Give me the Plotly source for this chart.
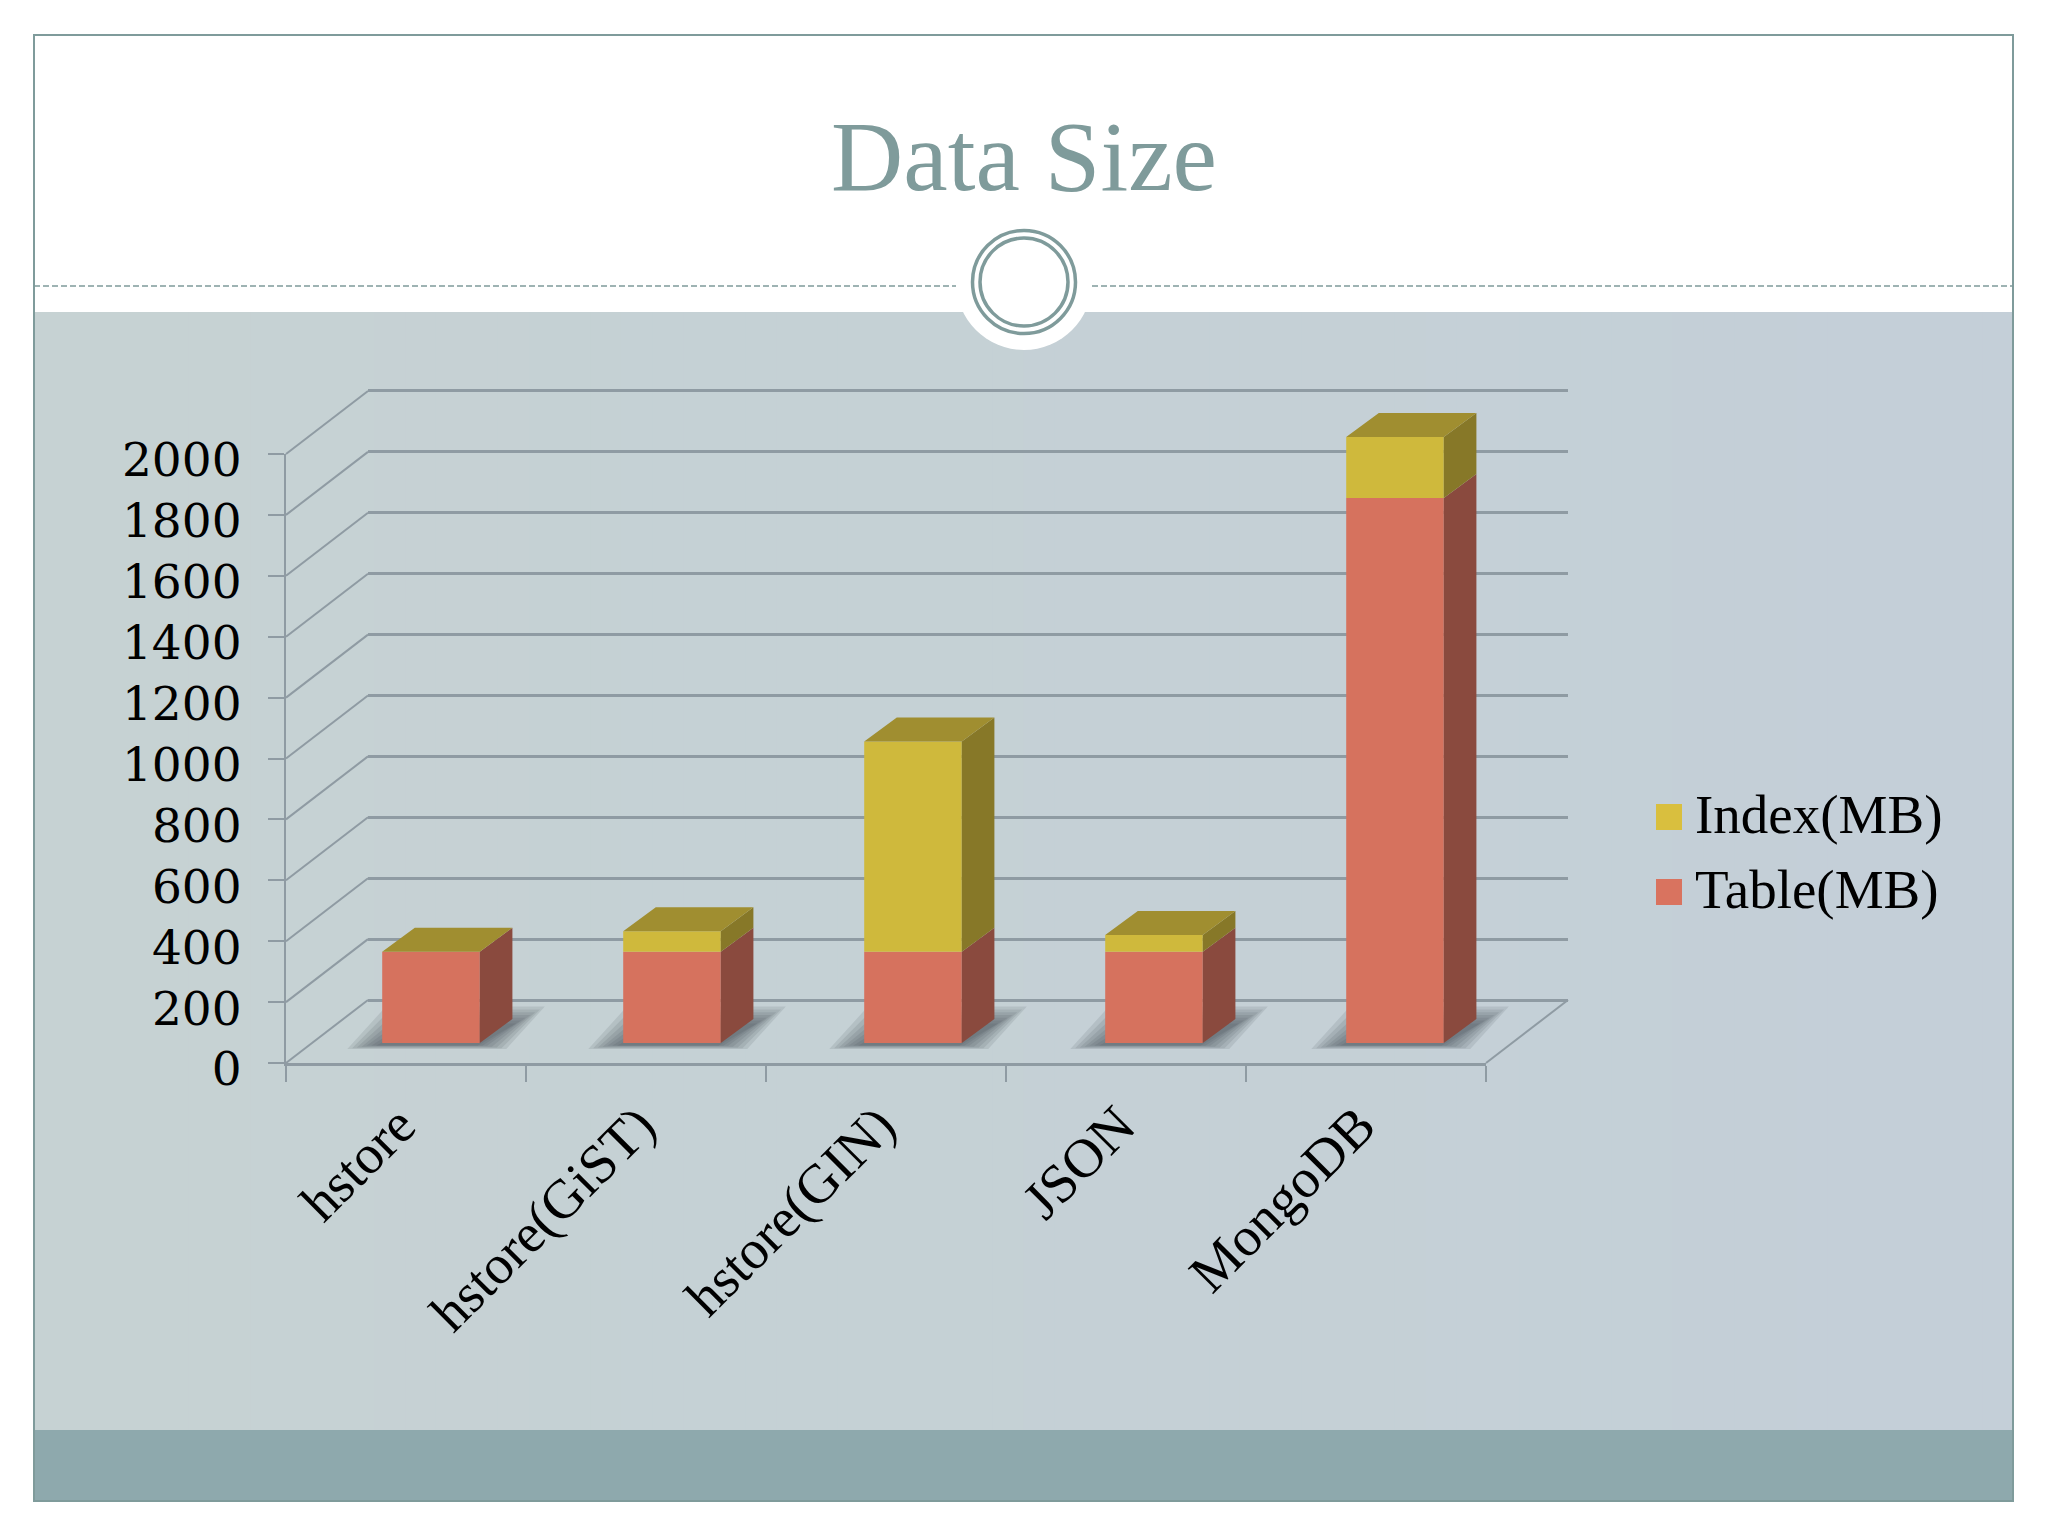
import plotly.graph_objects as go

categories = ["hstore", "hstore(GiST)", "hstore(GIN)", "JSON", "MongoDB"]
table_mb = [300, 300, 300, 300, 1790]
index_mb = [0, 67, 690, 55, 200]
y_ticks = [0, 200, 400, 600, 800, 1000, 1200, 1400, 1600, 1800, 2000]
series_names = ["Index(MB)", "Table(MB)"]
series_colors = ["#d9bf3e", "#d9735f"]

W, H = 2048, 1536
GRID = "#8f9ba3"
TABLE, TABLE_SIDE = "#d6725e", "#8a4a3e"
INDEX, INDEX_SIDE, INDEX_TOP = "#cfb93c", "#877828", "#a08e30"
FRAME = "#7f9b9b"
SERIF = "Liberation Serif"

px = lambda v: v / W
py = lambda v: 1 - v / H
U = 60.9 / 200          # pixels per value unit
STEP = 240.0            # pixels per category
BAR_STEP = 241.0        # bar spacing is very slightly wider than the axis ticks
X0, Y0 = 286, 1063      # front corner
BX, BY = 25, 20         # bar plane offset
WX, WY = 82, 63         # back wall offset
DX, DY = 32.6 / BAR_STEP, 24 / U   # bar depth in data units
BAR = 0.405
xs = list(range(len(categories)))


def plane(off_x, off_y, xr=(-0.5, 4.5), yr=(0, 2000), step=STEP):
    """Domains that place category -0.5 / value 0 at the plane's corner, for any range."""
    xd = [px(X0 + off_x + (xr[0] + 0.5) * step), px(X0 + off_x + (xr[1] + 0.5) * step)]
    yd = [py(Y0 - off_y - yr[0] * U), py(Y0 - off_y - yr[1] * U)]
    return dict(xd=xd, yd=yd, xr=list(xr), yr=list(yr))


wall = plane(WX, WY, yr=(-30, 2030))
edges = plane(WX, WY, xr=(-1.0, 5.0), yr=(-300, 2100))
front = plane(0, 0)
labels_p = plane(0, -6)
bars_p = plane(BX + (STEP - BAR_STEP) * 0.5, BY, xr=(-0.8, 5.0), yr=(-70, 2200), step=BAR_STEP)

fig = go.Figure()

# back wall grid (needs a trace for the axes to exist)
fig.add_trace(go.Scatter(x=[0], y=[0], mode="markers", marker=dict(opacity=0, size=1),
                         showlegend=False, hoverinfo="skip", xaxis="x", yaxis="y"))

# depth edges of the side wall and the floor
dia_x, dia_y = [], []
wx, wy = WX / STEP, WY / U
for v in y_ticks:
    dia_x += [-0.5, -0.5 - wx, None]
    dia_y += [v, v - wy, None]
dia_x += [4.5, 4.5 - wx]
dia_y += [0, -wy]
fig.add_trace(go.Scatter(x=dia_x, y=dia_y, mode="lines", line=dict(color=GRID, width=2),
                         showlegend=False, hoverinfo="skip", xaxis="x2", yaxis="y2"))

# front plane: axes and labels
fig.add_trace(go.Scatter(x=categories, y=[0] * len(categories), mode="markers", marker=dict(opacity=0, size=1),
                         showlegend=False, hoverinfo="skip", xaxis="x3", yaxis="y3"))
fig.add_trace(go.Scatter(x=[0], y=[0], mode="markers", marker=dict(opacity=0, size=1),
                         showlegend=False, hoverinfo="skip", xaxis="x6", yaxis="y6"))

# bar shadows: soft at the sides and top, crisper along the bottom edge
for grow in [12, 8, 4, 0, -4, -8, -12]:
    sx, sy = [], []
    gx = grow * 1.2 / BAR_STEP
    gb = max(grow, -4) * 0.2 / U
    gt = grow * 0.7 / U
    for x in xs:
        l, r = x - BAR / 2 - 0.085, x + BAR / 2 + 0.05
        skew = 0.16
        sx += [l - gx, r + gx, r + skew + gx, l + skew - gx, None]
        sy += [-12 - gb, -12 - gb, 92 + gt, 92 + gt, None]
    fig.add_trace(go.Scatter(x=sx, y=sy, mode="lines", fill="toself", fillcolor="rgba(55,65,70,0.115)",
                             line=dict(width=0), showlegend=False, hoverinfo="skip",
                             xaxis="x4", yaxis="y4"))

# bars and their depth faces
fig.add_trace(go.Bar(x=xs, y=table_mb, width=BAR, marker=dict(color=TABLE, line=dict(width=0)),
                     name=series_names[1], showlegend=False, xaxis="x5", yaxis="y5"))
fig.add_trace(go.Bar(x=xs, y=index_mb, width=BAR, base=table_mb, marker=dict(color=INDEX, line=dict(width=0)),
                     name=series_names[0], showlegend=False, xaxis="x5", yaxis="y5"))


def side(lows, highs):
    ox, oy = [], []
    for x, b, t in zip(xs, lows, highs):
        r = x + BAR / 2
        ox += [r, r + DX, r + DX, r, r, None]
        oy += [b, b + DY, t + DY, t, b, None]
    return ox, oy


totals = [a + b for a, b in zip(table_mb, index_mb)]
for (lo, hi, col) in [([0] * len(xs), table_mb, TABLE_SIDE), (table_mb, totals, INDEX_SIDE)]:
    ox, oy = side(lo, hi)
    fig.add_trace(go.Scatter(x=ox, y=oy, mode="lines", fill="toself", fillcolor=col, line=dict(width=0),
                             showlegend=False, hoverinfo="skip", xaxis="x5", yaxis="y5"))
tx, ty = [], []
for x, t in zip(xs, totals):
    l, r = x - BAR / 2, x + BAR / 2
    tx += [l, l + DX, r + DX, r, l, None]
    ty += [t, t + DY, t + DY, t, t, None]
fig.add_trace(go.Scatter(x=tx, y=ty, mode="lines", fill="toself", fillcolor=INDEX_TOP, line=dict(width=0),
                         showlegend=False, hoverinfo="skip", xaxis="x5", yaxis="y5"))

# slide background
shapes = []
n = 64
c0, c1 = (198, 210, 211), (196, 207, 216)
for i in range(n):
    t = i / (n - 1)
    c = tuple(round(a + (b - a) * t) for a, b in zip(c0, c1))
    x0 = 34 + (2013 - 34) * i / n
    x1 = 34 + (2013 - 34) * (i + 1) / n + 1
    shapes.append(dict(type="rect", xref="paper", yref="paper", x0=px(x0), x1=px(min(x1, 2013)), y0=py(312), y1=py(1430),
                       fillcolor=f"rgb{c}", line_width=0, layer="below"))
shapes += [
    dict(type="rect", xref="paper", yref="paper", x0=px(34), x1=px(2013), y0=py(1430), y1=py(1501),
         fillcolor="#8ea9ad", line_width=0, layer="below"),
    dict(type="rect", xref="paper", yref="paper", x0=px(34), x1=px(2013), y0=py(35), y1=py(1501),
         fillcolor="rgba(0,0,0,0)", line=dict(color=FRAME, width=2), layer="below"),
    dict(type="line", xref="paper", yref="paper", x0=px(34), x1=px(956), y0=py(286), y1=py(286),
         line=dict(color=FRAME, width=1.5, dash="6px,3px"), layer="below"),
    dict(type="line", xref="paper", yref="paper", x0=px(1092), x1=px(2013), y0=py(286), y1=py(286),
         line=dict(color=FRAME, width=1.5, dash="6px,3px"), layer="below"),
    dict(type="circle", xref="paper", yref="paper", x0=px(1024 - 68), x1=px(1024 + 68), y0=py(282 - 68), y1=py(282 + 68),
         fillcolor="white", line_width=0, layer="below"),
    dict(type="circle", xref="paper", yref="paper", x0=px(1024 - 51.5), x1=px(1024 + 51.5), y0=py(282 - 51.5), y1=py(282 + 51.5),
         fillcolor="rgba(0,0,0,0)", line=dict(color=FRAME, width=3.5), layer="below"),
    dict(type="circle", xref="paper", yref="paper", x0=px(1024 - 44), x1=px(1024 + 44), y0=py(282 - 44), y1=py(282 + 44),
         fillcolor="rgba(0,0,0,0)", line=dict(color=FRAME, width=3.5), layer="below"),
]

# legend: swatches and labels
annotations = []
for name, col, cy in zip(series_names, series_colors, [817, 892]):
    shapes.append(dict(type="rect", xref="paper", yref="paper", x0=px(1656), x1=px(1682), y0=py(cy - 13), y1=py(cy + 13),
                       fillcolor=col, line_width=0, layer="above"))
    annotations.append(dict(text=name, xref="paper", yref="paper", x=px(1693), y=py(cy - 3), xanchor="left", yanchor="middle",
                            showarrow=False, font=dict(family=SERIF, size=55, color="black")))

hidden = dict(showgrid=False, zeroline=False, showline=False, showticklabels=False, ticks="", automargin=False)


def axes(p, anchor_x, anchor_y):
    return (dict(domain=p["xd"], range=p["xr"], anchor=anchor_y, **hidden),
            dict(domain=p["yd"], range=p["yr"], anchor=anchor_x, **hidden))


xa2, ya2 = axes(edges, "x2", "y2")
xa4, ya4 = axes(bars_p, "x4", "y4")
xa5, ya5 = axes(bars_p, "x5", "y5")
xa6, _ = axes(labels_p, "x6", "y6")

fig.update_layout(
    width=W, height=H, margin=dict(l=0, r=0, t=0, b=0), autosize=False,
    paper_bgcolor="white", plot_bgcolor="rgba(0,0,0,0)", shapes=shapes, annotations=annotations, barmode="overlay",
    showlegend=False,
    title=dict(text="Data Size", font=dict(family=SERIF, size=100, color="#7f9b9b"),
               x=0.5, xanchor="center", xref="paper", y=py(155), yanchor="middle", yref="paper"),
    xaxis=dict(domain=wall["xd"], range=wall["xr"], anchor="y", **hidden),
    yaxis=dict(domain=wall["yd"], range=wall["yr"], anchor="x", showgrid=True, gridcolor=GRID, gridwidth=3,
               tickvals=y_ticks, zeroline=False, showticklabels=False, ticks="", showline=False, automargin=False),
    xaxis2=xa2, yaxis2=ya2,
    xaxis3=dict(domain=front["xd"], type="category", categoryorder="array", categoryarray=categories,
                range=[-0.5, 4.5], anchor="y3", tickson="boundaries", ticks="outside", ticklen=16,
                tickcolor=GRID, tickwidth=2, showline=True, linecolor=GRID, linewidth=3, tickangle=-45,
                ticklabelstandoff=5, ticklabelshift=-7,
                tickfont=dict(family=SERIF, size=55, color="black"), showgrid=False, zeroline=False, automargin=False),
    yaxis3=dict(domain=front["yd"], range=[0, 2000], anchor="x3", tickvals=y_ticks, showticklabels=False,
                ticks="outside", ticklen=16, tickcolor=GRID, tickwidth=2,
                showline=True, linecolor=GRID, linewidth=2, showgrid=False, zeroline=False, automargin=False),
    xaxis4=xa4, yaxis4=ya4, xaxis5=xa5, yaxis5=ya5, xaxis6=xa6,
    yaxis6=dict(domain=labels_p["yd"], range=[0, 2000], anchor="x6", tickvals=y_ticks,
                ticktext=[str(v) for v in y_ticks], ticks="outside", ticklen=16, tickcolor="rgba(0,0,0,0)",
                showline=False, showgrid=False, zeroline=False, automargin=False,
                ticklabelstandoff=18, tickfont=dict(family="DejaVu Serif", size=47, color="black")),
)

fig.write_html("out.html", config=dict(displayModeBar=False),
               post_script="document.body.style.margin='0';document.body.style.overflow='hidden';")
